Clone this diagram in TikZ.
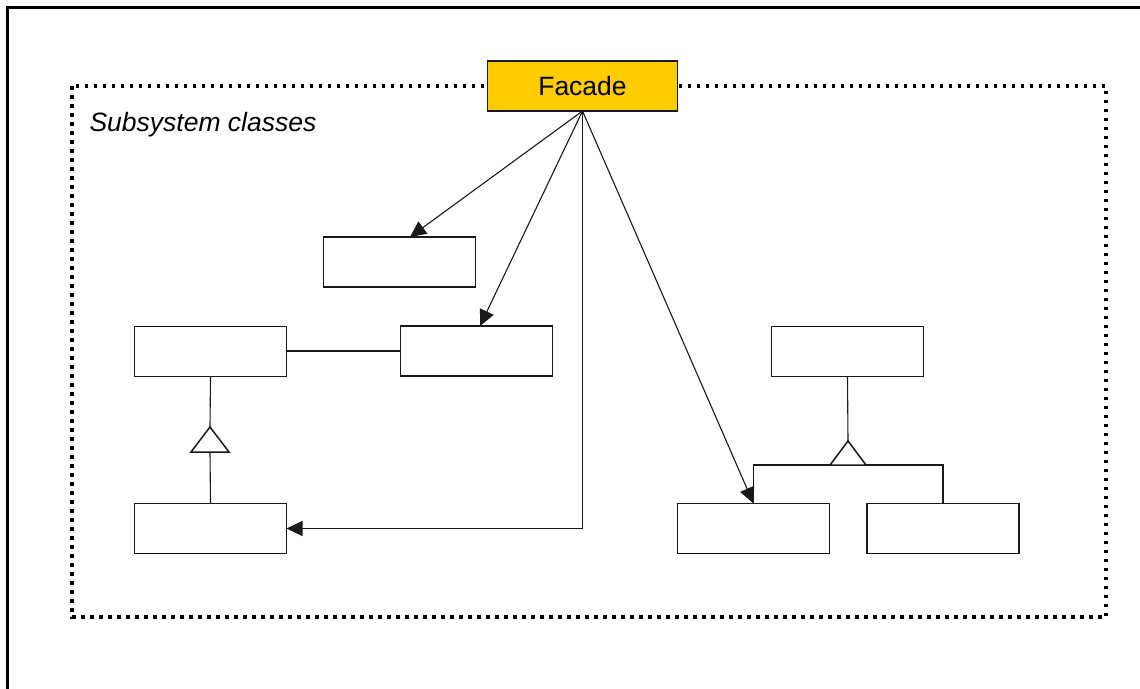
\documentclass[tikz,border=0pt]{standalone}
\usepackage{fontspec}
\setmainfont{Liberation Sans}
\usetikzlibrary{arrows.meta,calc}
\definecolor{facadeyellow}{HTML}{FFCC00}
\begin{document}
\begin{tikzpicture}[x=1pt,y=-1pt,
  cls/.style={draw=black!90,line width=1.5pt,fill=white,minimum width=152pt,minimum height=50pt,inner sep=0pt,outer sep=0pt},
  facadebox/.style={draw=black!90,line width=1.5pt,fill=facadeyellow,minimum width=190pt,minimum height=50pt,inner sep=0pt,outer sep=0pt,font=\fontsize{26.5}{30}\selectfont},
  conn/.style={draw=black!90,line width=1.1pt},
  arr/.style={conn,-{Triangle[length=16pt,width=15pt]}},
  gentri/.style={draw=black!90,line width=1.5pt,fill=white},
  subsys/.style={draw=black,line width=3.5pt,dash pattern=on 3.5pt off 5.5pt},
  frame/.style={draw=black,line width=3pt}]
\useasboundingbox (0,0) rectangle (1140,688);
% outer frame (left and top edges only)
\draw[frame] (7.5,690) -- (7.5,7.5) -- (1142,7.5);
% subsystem boundary
\draw[subsys] (72,86) rectangle (1106,617);
\node[anchor=base west,font=\fontsize{26.5}{30}\selectfont\itshape] (lbl) at (86,131) {Subsystem classes};
% facade
\node[facadebox] (fac) at (582.5,86) {Facade};
% classes
\node[cls] (A) at (399.5,262) {};
\node[cls] (B) at (476.5,351) {};
\node[cls] (C) at (210.5,351.5) {};
\node[cls] (D) at (210.5,528.5) {};
\node[cls] (E) at (847.5,351.5) {};
\node[cls] (F) at (753.5,528.5) {};
\node[cls] (G) at (943,528.5) {};
% association C - B
\draw[conn] (C.east |- B.west) -- (B.west);
% generalization D -> C
\coordinate (t1) at (210,427);
\draw[conn] (C.south) -- (t1);
\draw[conn] (D.north) -- (210,452);
\draw[gentri] (t1) -- (191,452) -- (229,452) -- cycle;
% generalization F,G -> E
\coordinate (t2) at (848,441);
\draw[conn] (E.south) -- (t2);
\draw[conn] (F.north) -- (F.north |- 0,465) -- (G.north |- 0,465) -- (G.north);
\draw[gentri] (t2) -- (830,465) -- (866,465) -- cycle;
% facade arrows
\draw[arr] (fac.south) -- ($(A.north)+(10.5,0)$);
\draw[arr] (fac.south) -- ($(B.north)+(3.5,0)$);
\draw[arr] (fac.south) -- (F.north);
\draw[arr] (fac.south) -- (fac.south |- D.east) -- (D.east);
\end{tikzpicture}
\end{document}
